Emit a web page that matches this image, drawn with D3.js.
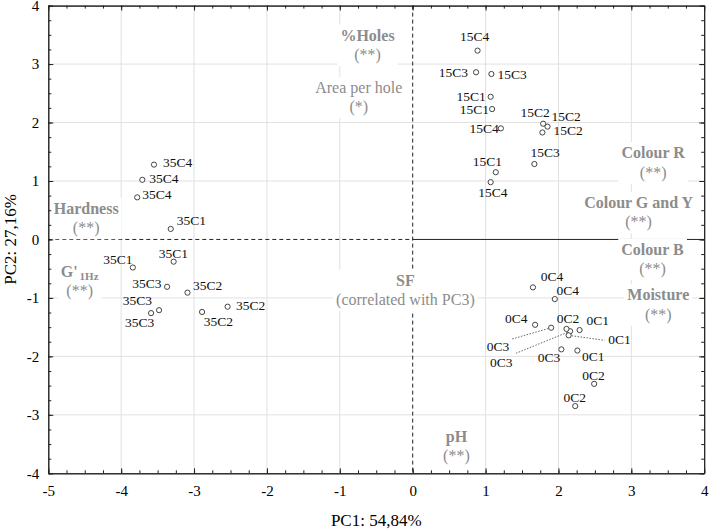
<!DOCTYPE html>
<html><head><meta charset="utf-8">
<script src="https://cdn.jsdelivr.net/npm/d3@7"></script>
<style>
body{margin:0;background:#fff}
svg{display:block}
text{font-family:"Liberation Serif","Times New Roman",serif}
</style>
</head><body>
<svg id="chart" width="709" height="530"></svg>
<script>
// ---------- data ----------
const xTicks = [-5, -4, -3, -2, -1, 0, 1, 2, 3, 4];
const yTicks = [-4, -3, -2, -1, 0, 1, 2, 3, 4];
const xTickLabels = ["-5", "-4", "-3", "-2", "-1", "0", "1", "2", "3", "4"];
const yTickLabels = ["-4", "-3", "-2", "-1", "0", "1", "2", "3", "4"];
const xTitle = "PC1: 54,84%";
const yTitle = "PC2: 27,16%";

const sampleNames = [
  "15C4","15C3","15C3","15C1","15C1","15C4","15C2","15C2","15C2","15C3","15C1","15C4",
  "35C4","35C4","35C4","35C1","35C1","35C1","35C3","35C2","35C3","35C3","35C2","35C2",
  "0C4","0C4","0C4","0C3","0C3","0C2","0C1","0C1","0C3","0C1","0C2","0C2"
];
const pc1Scores = [
  0.89, 0.87, 1.08, 1.07, 1.09, 1.21, 1.79, 1.85, 1.78, 1.67, 1.14, 1.07,
  -3.55, -3.71, -3.78, -3.32, -3.28, -3.84, -3.37, -3.09, -3.59, -3.48, -2.89, -2.54,
  1.65, 1.95, 1.68, 1.90, 2.16, 2.11, 2.29, 2.14, 2.04, 2.26, 2.49, 2.23
];
const pc2Scores = [
  3.23, 2.86, 2.83, 2.44, 2.23, 1.90, 1.98, 1.93, 1.83, 1.29, 1.15, 0.98,
  1.28, 1.02, 0.72, 0.18, -0.38, -0.48, -0.81, -0.91, -1.26, -1.21, -1.24, -1.15,
  -0.82, -1.02, -1.46, -1.51, -1.57, -1.53, -1.55, -1.64, -1.88, -1.90, -2.47, -2.85
];

// variable annotations (name, significance, position in PC space)
const varNames = ["%Holes", "Area per hole", "Colour R", "Colour G and Y", "Colour B", "Moisture", "Hardness", "G'", "SF", "pH"];
const varNotes = ["(**)", "(*)", "(**)", "(**)", "(**)", "(**)", "(**)", "(**)", "(correlated with PC3)", "(**)"];
const varPC1 = [-0.62, -0.74, 3.30, 3.10, 3.29, 3.37, -4.48, -4.57, -0.10, 0.60];
const varPC2 = [3.40, 2.51, 1.39, 0.54, -0.26, -1.04, 0.44, -0.64, -0.79, -3.46];

// ---------- layout (label placement, px) ----------
const labelPlacement = [
  [-3,-10,"middle"],[-8,4.5,"end"],[6,4.5,"start"],[-5,4.5,"end"],[-3,4.5,"end"],[-2,4.5,"end"],
  [6.6,-6.7,"end"],[4,-6,"start"],[11,2.7,"start"],[-4,-7,"start"],[-23,-6,"start"],[-12.4,14.7,"start"],
  [9,2.7,"start"],[7,3.3,"start"],[5,2,"start"],[6,-4,"start"],[-15,-3.4,"start"],[-29.7,-3.7,"start"],
  [-5.6,1.6,"end"],[5.4,-2.7,"start"],[-26,13.7,"start"],[-36.3,-5.3,"start"],[1.7,14,"start"],[8.4,3.3,"start"],
  [7.7,-6.7,"start"],[1.7,-4,"start"],[-30,-2,"start"],[-42,22.8,"end"],[-57.7,35.5,"end"],[-9.6,-5.4,"start"],
  [7,-4.6,"start"],[39.6,8.7,"start"],[-1,13,"end"],[4.7,10.7,"start"],[-12,-3.7,"start"],[-11.7,-4,"start"]
];
const leaderLines = {27: [-40, 11.5], 28: [-54, 22], 31: [36, 5]};
const varBold = [true, false, true, true, true, true, true, true, true, true];

// ---------- chart ----------
const svg = d3.select("#chart");
const x = d3.scaleLinear().domain([-5, 4]).range([48.3, 704.2]);
const y = d3.scaleLinear().domain([-4, 4]).range([473.3, 5.6]);
const FONT = '"Liberation Serif","Times New Roman",serif';
const gray = "#8c8c8c";

// grid
const grid = svg.append("g");
grid.selectAll("line.gx").data(xTicks.filter(v => v !== 0 && v !== -5 && v !== 4)).join("line")
  .attr("x1", d => x(d)).attr("x2", d => x(d)).attr("y1", y(-4)).attr("y2", y(4))
  .attr("stroke", "#e1e1e1").attr("stroke-width", 1);
grid.selectAll("line.gy").data(yTicks.filter(v => v !== 0 && v !== -4 && v !== 4)).join("line")
  .attr("y1", d => y(d)).attr("y2", d => y(d)).attr("x1", x(-5)).attr("x2", x(4))
  .attr("stroke", "#e1e1e1").attr("stroke-width", 1);

// zero lines
svg.append("line").attr("x1", x(0)).attr("x2", x(0)).attr("y1", y(4)).attr("y2", y(-4))
  .attr("stroke", "#222").attr("stroke-dasharray", "4,3");
svg.append("line").attr("x1", x(-5)).attr("x2", x(0)).attr("y1", y(0)).attr("y2", y(0))
  .attr("stroke", "#222").attr("stroke-dasharray", "4,3");
svg.append("line").attr("x1", x(0)).attr("x2", x(4)).attr("y1", y(0)).attr("y2", y(0))
  .attr("stroke", "#222");

// variable annotations
const ann = svg.append("g");
varNames.forEach((nm, i) => {
  const g = ann.append("g");
  const cx = x(varPC1[i]), cy = y(varPC2[i]);
  const t1 = g.append("text").attr("x", cx).attr("y", cy).attr("text-anchor", "middle")
    .attr("font-size", 16).attr("font-weight", varBold[i] ? "bold" : "normal").attr("fill", gray);
  if (nm === "G'") {
    t1.append("tspan").text("G'");
    t1.append("tspan").attr("dx", 2).attr("dy", 3).attr("font-size", 11).text("1Hz");
  } else {
    t1.text(nm);
  }
  const t2 = g.append("text").attr("x", cx).attr("y", cy + 19.5).attr("text-anchor", "middle")
    .attr("font-size", 16).attr("fill", gray).text(varNotes[i]);
  const b1 = t1.node().getBBox(), b2 = t2.node().getBBox();
  const x0 = Math.min(b1.x, b2.x) - 3, x1 = Math.max(b1.x + b1.width, b2.x + b2.width) + 3;
  const y0 = b1.y - 2, y1 = b2.y + b2.height + 2;
  g.insert("rect", "text").attr("x", x0).attr("y", y0).attr("width", x1 - x0).attr("height", y1 - y0)
    .attr("fill", "#fff");
});

// axes (frame + ticks)
function styleAxis(g) {
  g.attr("font-family", FONT).attr("font-size", 15);
  g.selectAll("path.domain").attr("stroke", "#222");
  g.selectAll(".tick line").attr("stroke", "#222");
  g.selectAll(".tick text").attr("fill", "#000");
}
const minorX = d3.range(-5, 4.001, 0.25);
const minorY = d3.range(-4, 4.001, 0.25);
svg.append("g").attr("transform", `translate(0,${y(-4)})`)
  .call(d3.axisBottom(x).tickValues(minorX).tickSizeInner(-3).tickSizeOuter(0).tickFormat("")).call(styleAxis);
svg.append("g").attr("transform", `translate(0,${y(-4)})`)
  .call(d3.axisBottom(x).tickValues(xTicks).tickSizeInner(-5).tickSizeOuter(0).tickPadding(12)
    .tickFormat((d, i) => xTickLabels[i])).call(styleAxis);
svg.append("g").attr("transform", `translate(0,${y(4)})`)
  .call(d3.axisTop(x).tickValues(minorX).tickSizeInner(-3).tickSizeOuter(0).tickFormat("")).call(styleAxis);
svg.append("g").attr("transform", `translate(0,${y(4)})`)
  .call(d3.axisTop(x).tickValues(xTicks).tickSizeInner(-5).tickSizeOuter(0).tickFormat("")).call(styleAxis);
svg.append("g").attr("transform", `translate(${x(-5)},0)`)
  .call(d3.axisLeft(y).tickValues(minorY).tickSizeInner(-3).tickSizeOuter(0).tickFormat("")).call(styleAxis);
svg.append("g").attr("transform", `translate(${x(-5)},0)`)
  .call(d3.axisLeft(y).tickValues(yTicks).tickSizeInner(-5).tickSizeOuter(0).tickPadding(9)
    .tickFormat((d, i) => yTickLabels[i])).call(styleAxis);
svg.append("g").attr("transform", `translate(${x(4)},0)`)
  .call(d3.axisRight(y).tickValues(minorY).tickSizeInner(-3).tickSizeOuter(0).tickFormat("")).call(styleAxis);
svg.append("g").attr("transform", `translate(${x(4)},0)`)
  .call(d3.axisRight(y).tickValues(yTicks).tickSizeInner(-5).tickSizeOuter(0).tickFormat("")).call(styleAxis);

// axis titles
svg.append("text").attr("x", (x(-5) + x(4)) / 2).attr("y", 526).attr("text-anchor", "middle")
  .attr("font-size", 17).attr("fill", "#000").text(xTitle);
svg.append("text").attr("transform", `translate(15.5,${(y(-4) + y(4)) / 2}) rotate(-90)`)
  .attr("text-anchor", "middle").attr("font-size", 17).attr("fill", "#000").text(yTitle);

// leader lines
const idx = d3.range(sampleNames.length);
svg.append("g").selectAll("line").data(Object.keys(leaderLines).map(Number)).join("line")
  .attr("x1", i => x(pc1Scores[i])).attr("y1", i => y(pc2Scores[i]))
  .attr("x2", i => x(pc1Scores[i]) + leaderLines[i][0]).attr("y2", i => y(pc2Scores[i]) + leaderLines[i][1])
  .attr("stroke", "#555").attr("stroke-width", 0.9).attr("stroke-dasharray", "1.5,1.5");

// points
svg.append("g").selectAll("circle").data(idx).join("circle")
  .attr("cx", i => x(pc1Scores[i])).attr("cy", i => y(pc2Scores[i])).attr("r", 2.6)
  .attr("fill", "#fff").attr("stroke", "#444").attr("stroke-width", 1);

// point labels
svg.append("g").selectAll("text").data(idx).join("text")
  .attr("x", i => x(pc1Scores[i]) + labelPlacement[i][0])
  .attr("y", i => y(pc2Scores[i]) + labelPlacement[i][1])
  .attr("text-anchor", i => labelPlacement[i][2])
  .attr("font-size", 13.5).attr("fill", "#111")
  .text(i => sampleNames[i]);
</script>
</body></html>
